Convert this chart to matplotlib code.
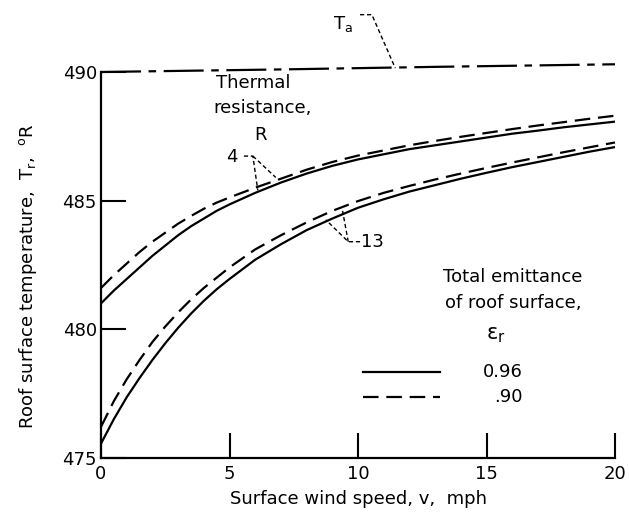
import matplotlib
matplotlib.use("Agg")
import matplotlib.pyplot as plt

plt.rcParams['font.family'] = ['DejaVu Sans']
plt.rcParams['mathtext.fontset'] = 'dejavusans'

# Data
wind_speed = [0, 0.5, 1, 1.5, 2, 2.5, 3, 3.5, 4, 4.5, 5, 6, 7, 8, 9, 10,
              11, 12, 13, 14, 15, 16, 17, 18, 19, 20]
r4_e096 = [481.0, 481.5, 481.95, 482.4, 482.85, 483.25, 483.65, 484.0, 484.3, 484.6, 484.85,
           485.3, 485.7, 486.05, 486.35, 486.6, 486.8, 487.0, 487.15, 487.3, 487.45,
           487.6, 487.72, 487.85, 487.96, 488.07]
r4_e090 = [481.6, 482.1, 482.55, 483.0, 483.4, 483.75, 484.1, 484.4, 484.68, 484.92, 485.12,
           485.5, 485.85, 486.2, 486.5, 486.75, 486.95, 487.15, 487.32, 487.48, 487.63,
           487.78, 487.92, 488.05, 488.18, 488.3]
r13_e096 = [475.55, 476.5, 477.35, 478.1, 478.8, 479.45, 480.05, 480.6, 481.1, 481.55, 481.95,
            482.7, 483.3, 483.85, 484.3, 484.72, 485.05, 485.35, 485.6, 485.85, 486.08,
            486.3, 486.5, 486.7, 486.9, 487.08]
r13_e090 = [476.2, 477.2, 478.05, 478.8, 479.5, 480.1, 480.65, 481.15, 481.6, 482.0, 482.4,
            483.1, 483.65, 484.15, 484.6, 484.98, 485.3, 485.57, 485.82, 486.05, 486.27,
            486.48, 486.68, 486.88, 487.07, 487.26]
ta_speed = [0, 7, 13, 20]
ta_temp = [490.0, 490.1, 490.2, 490.3]

x_ticks = [0, 5, 10, 15, 20]
y_ticks = [475, 480, 485, 490]

W, H = 629, 516
fig = plt.figure(figsize=(W / 100, H / 100), dpi=100)
ax = fig.add_axes([101 / W, 1 - 457.7 / H, 514 / W, 385.7 / H])

lw = 1.6
dash = (0, (7, 3.5))
ax.plot(wind_speed, r4_e096, color='black', lw=lw, solid_capstyle='butt', clip_on=False)
ax.plot(wind_speed, r4_e090, color='black', lw=lw, linestyle=dash, clip_on=False)
ax.plot(wind_speed, r13_e096, color='black', lw=lw, solid_capstyle='butt', clip_on=False)
ax.plot(wind_speed, r13_e090, color='black', lw=lw, linestyle=dash, clip_on=False)
ax.plot(ta_speed, ta_temp, color='black', lw=lw, linestyle=(0, (18, 3.4, 3.4, 3.4)), clip_on=False)

ax.set_xlim(0, 20)
ax.set_ylim(475, 490)
ax.set_xticks(x_ticks)
ax.set_yticks(y_ticks)
ax.set_xticklabels([str(v) for v in x_ticks])
ax.set_yticklabels([str(v) for v in y_ticks])
ax.tick_params(direction='in', length=18, width=1.5, labelsize=13, pad=3)
ax.tick_params(axis='x', pad=5)
for s in ['top', 'right']:
    ax.spines[s].set_visible(False)
for s in ['left', 'bottom']:
    ax.spines[s].set_linewidth(1.6)

ax.set_xlabel('Surface wind speed, v,  mph', fontsize=13, labelpad=5)
ax.set_ylabel('Roof surface temperature,  T$_\\mathregular{r}$,  $^\\mathregular{o}$R',
              fontsize=13)
ax.yaxis.set_label_coords(-0.12, 0.47)

# Annotations
leader = dict(color='black', lw=1.0, linestyle=(0, (3, 2)))
ax.text(9.4, 491.85, 'T$_\\mathregular{a}$', fontsize=13, ha='center', va='center')
ax.plot([10.08, 10.54, 11.45], [492.23, 492.23, 490.15], clip_on=False, **leader)

ax.text(5.91, 489.57, 'Thermal', fontsize=13, ha='center', va='center')
ax.text(6.3, 488.6, 'resistance,', fontsize=13, ha='center', va='center')
ax.text(6.19, 487.55, 'R', fontsize=13, ha='center', va='center')
ax.text(5.1, 486.7, '4', fontsize=13, ha='center', va='center')
ax.plot([5.56, 5.91, 6.1], [486.73, 486.73, 485.4], **leader)
ax.plot([5.91, 6.8], [486.73, 485.9], **leader)

ax.text(10.1, 483.4, '13', fontsize=13, ha='left', va='center')
ax.plot([10.08, 9.62, 8.75], [483.4, 483.4, 484.25], **leader)
ax.plot([9.62, 9.4], [483.4, 484.6], **leader)

ax.text(0.8016, 0.468, 'Total emittance', transform=ax.transAxes, fontsize=13, ha='center', va='center')
ax.text(0.8016, 0.401, 'of roof surface,', transform=ax.transAxes, fontsize=13, ha='center', va='center')
ax.text(0.768, 0.318, 'ε$_\\mathregular{r}$', transform=ax.transAxes, fontsize=15, ha='center', va='center')

ax.plot([0.510, 0.660], [0.222, 0.222], transform=ax.transAxes, color='black', lw=lw)
ax.plot([0.510, 0.660], [0.157, 0.157], transform=ax.transAxes, color='black', lw=lw, linestyle=dash)
ax.text(0.821, 0.222, '0.96', transform=ax.transAxes, fontsize=13, ha='right', va='center')
ax.text(0.821, 0.157, '.90', transform=ax.transAxes, fontsize=13, ha='right', va='center')

fig.savefig('out.png', dpi=100)
